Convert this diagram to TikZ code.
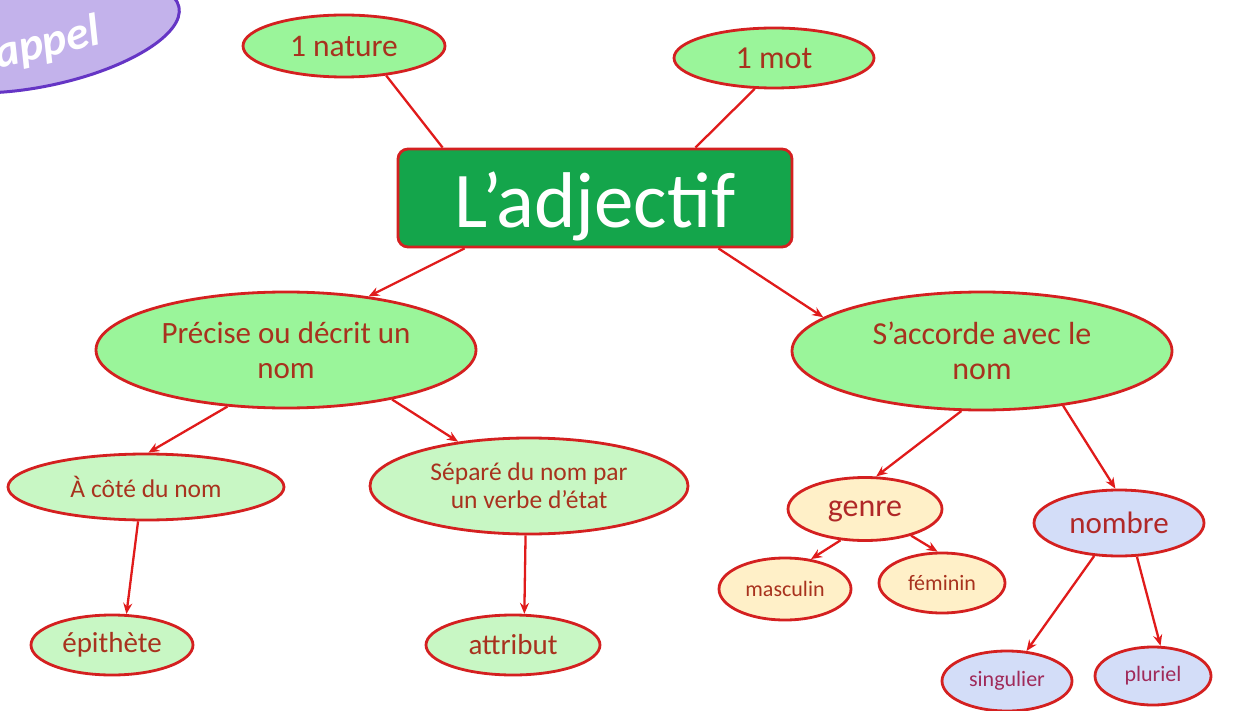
\documentclass[tikz,border=0pt]{standalone}
\usepackage{fontspec}
\setmainfont{Carlito}
\usetikzlibrary{shapes.geometric,arrows.meta}
\definecolor{edgered}{HTML}{E01B1B}
\definecolor{bordred}{HTML}{D42020}
\definecolor{txtred}{HTML}{A8321E}
\definecolor{lgreen}{HTML}{9AF59A}
\definecolor{pgreen}{HTML}{C8F7C4}
\definecolor{boxgreen}{HTML}{14A54B}
\definecolor{lyellow}{HTML}{FFF0C8}
\definecolor{lblue}{HTML}{D3DDF8}
\definecolor{rfill}{HTML}{C3B2EB}
\definecolor{rborder}{HTML}{6535C5}
\definecolor{gtxt}{HTML}{B02828}
\definecolor{ptxt}{HTML}{A02A5A}
\newcommand{\fsz}[2]{\fontsize{#1}{#2}\selectfont}
\begin{document}
\begin{tikzpicture}[x=1pt,y=-1pt,
  bub/.style={ellipse, draw=bordred, line width=2.8pt, inner sep=0pt, text=txtred, align=center},
  con/.style={draw=edgered, line width=2.3pt},
  arr/.style={con, -{Stealth[length=11pt,width=9pt]}},
]
\useasboundingbox (0,0) rectangle (1233,711);
\clip (0,0) rectangle (1233,711);

% Rappel badge
\node[ellipse, draw=rborder, line width=3pt, fill=rfill, minimum width=280, minimum height=100,
      rotate=12] (rappel) at (42,36) {};
\node[rotate=13, text=white, inner sep=0pt, font=\fsz{46}{52}\bfseries\itshape] (rappeltxt) at (35,47) {Rappel};

% central box
\node[draw=bordred, line width=2.8pt, fill=boxgreen, rounded corners=10pt,
      minimum width=394, minimum height=98, text=white, text height=60pt, text depth=0pt, font=\fsz{79}{86}] (adj) at (595,198) {L’adjectif};

% top nodes
\node[bub, fill=lgreen, minimum width=202, minimum height=62, font=\fsz{31.5}{35}] (nat) at (344,46) {1 nature};
\node[bub, fill=lgreen, minimum width=200, minimum height=60, font=\fsz{32}{35}] (mot) at (774,58) {1 mot};

% second level
\node[bub, fill=lgreen, minimum width=380, minimum height=116, font=\fsz{31}{35}] (prec) at (286,350) {Précise ou décrit un\\nom};
\node[bub, fill=lgreen, minimum width=380, minimum height=118, font=\fsz{32}{35}] (acc) at (982,351) {S’accorde avec le\\nom};

% left branch
\node[bub, fill=pgreen, minimum width=276, minimum height=66, font=\fsz{25.5}{29}] (cote) at (146,487) {À côté du nom};
\node[bub, fill=pgreen, minimum width=318, minimum height=96, font=\fsz{25.5}{28}] (sep) at (529,486) {Séparé du nom par\\un verbe d’état};
\node[bub, fill=pgreen, minimum width=162, minimum height=60, font=\fsz{29}{33}] (epi) at (112,645) {épithète};
\node[bub, fill=pgreen, minimum width=174, minimum height=60, font=\fsz{29}{33}] (att) at (513,645) {attribut};

% right branch
\node[bub, fill=lyellow, text=gtxt, minimum width=154, minimum height=63, text height=22pt, text depth=7pt, font=\fsz{32}{36}] (gen) at (865,509) {genre};
\node[bub, fill=lblue, text=gtxt, minimum width=170, minimum height=66, font=\fsz{31}{35}] (nb) at (1119,523) {nombre};
\node[bub, fill=lyellow, minimum width=132, minimum height=62, font=\fsz{22}{26}] (masc) at (785,589) {masculin};
\node[bub, fill=lyellow, minimum width=126, minimum height=60, font=\fsz{22}{26}] (fem) at (942,583) {féminin};
\node[bub, fill=lblue, text=ptxt, minimum width=130, minimum height=60, font=\fsz{22}{26}] (sing) at (1007,681) {singulier};
\node[bub, fill=lblue, text=ptxt, minimum width=116, minimum height=58, font=\fsz{22}{26}] (plur) at (1153,676) {pluriel};

% connectors
\draw[con] (nat.-35) -- ([xshift=46pt]adj.north west);
\draw[con] (mot.-122) -- ([xshift=-98pt]adj.north east);
\draw[arr] ([xshift=68pt]adj.south west) -- (prec.33);
\draw[arr] ([xshift=-75pt]adj.south east) -- (acc.168);
\draw[arr] (prec.-136) -- (cote.86);
\draw[arr] (prec.-25) -- (sep.148);
\draw[arr] (cote.-103) -- (epi.65);
\draw[arr] (sep.-94) -- (att.70);
\draw[arr] (acc.-109) -- (gen.71);
\draw[arr] (acc.-34) -- (nb.96);
\draw[arr] (gen.-128) -- (masc.49);
\draw[arr] (gen.-30) -- (fem.98);
\draw[arr] (nb.-127) -- (sing.57);
\draw[arr] (nb.-62) -- (plur.76);
\end{tikzpicture}
\end{document}
